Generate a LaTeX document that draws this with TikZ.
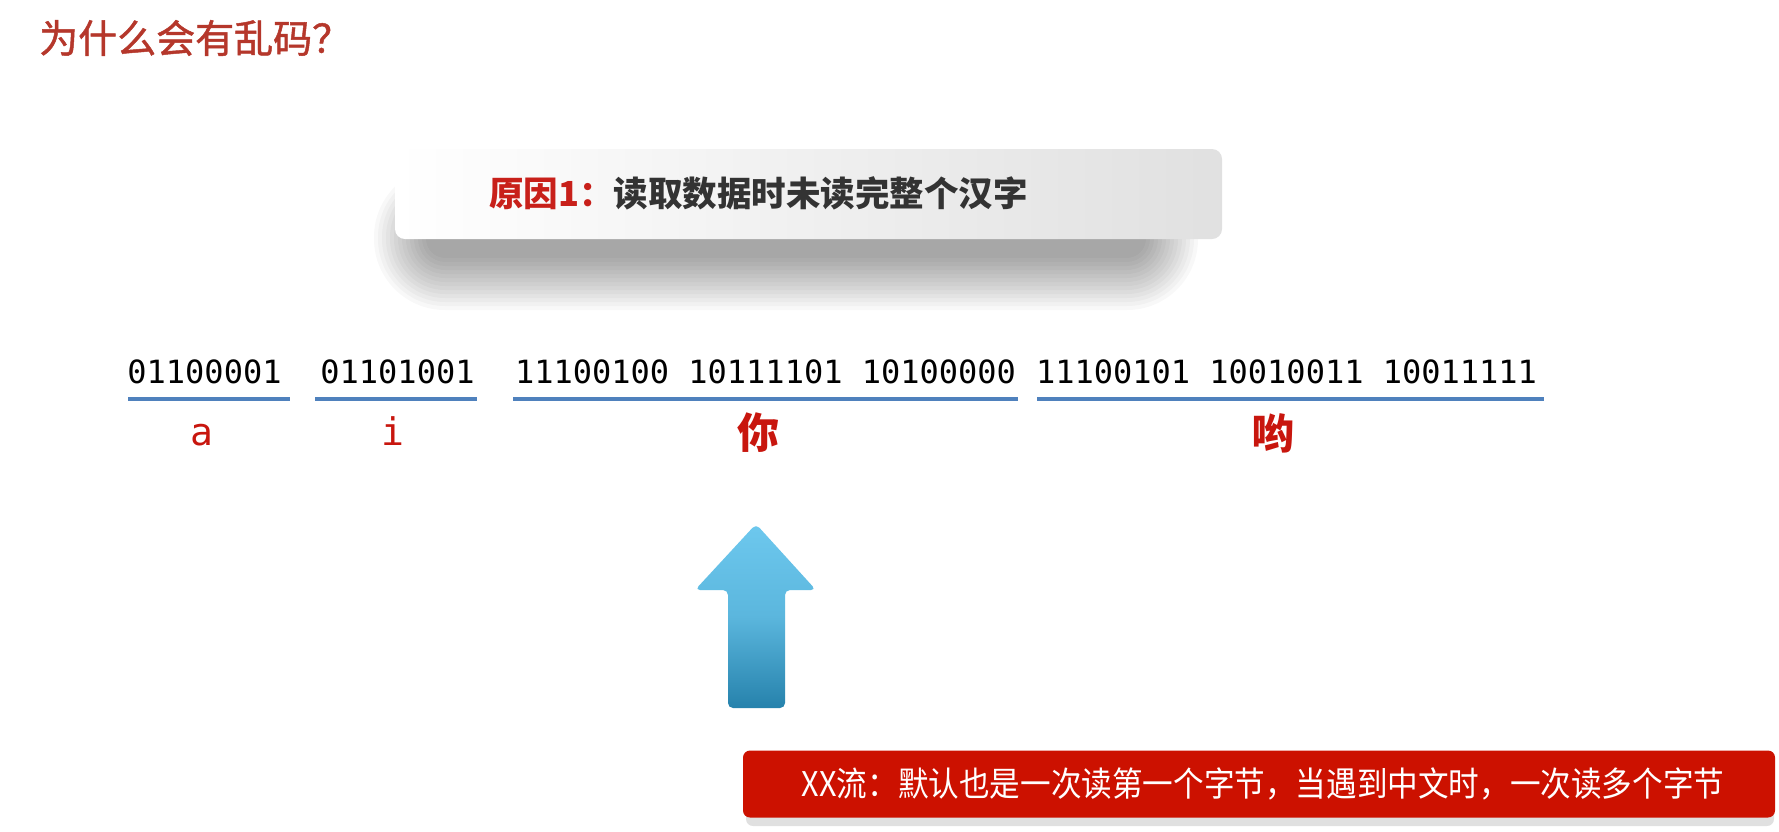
\documentclass[tikz,border=0pt]{standalone}
\usepackage{fontspec}
\newfontfamily\cjk{Noto Sans CJK SC}
\newfontfamily\cjkmed[FakeBold=1.2]{Noto Sans CJK SC}
\newfontfamily\cjknarrow[FakeStretch=0.9]{Noto Sans CJK SC}
\newfontfamily\monof{DejaVu Sans Mono}
\definecolor{titlered}{HTML}{B5372B}
\definecolor{reasonred}{HTML}{C8201A}
\definecolor{darktext}{HTML}{333333}
\definecolor{lineblue}{HTML}{4F81BD}
\definecolor{charred}{HTML}{C8160E}
\definecolor{notered}{HTML}{CC1100}
\definecolor{arrowtop}{HTML}{6DC8EE}
\definecolor{arrowbot}{HTML}{2682AC}
\tikzset{
  bits/.style={font=\monof\fontsize{32}{36}\selectfont, inner sep=0pt, anchor=center},
  latinlab/.style={font=\monof\fontsize{38}{44}\selectfont, text=charred, inner sep=0pt},
  hanlab/.style={font=\cjk\bfseries\fontsize{42}{48}\selectfont, text=charred, inner sep=0pt},
  uline/.style={draw=lineblue, line width=4pt},
  softshade/.style={fill=black, fill opacity=0.028, draw=none},
}
\begin{document}
\begin{tikzpicture}[x=1pt,y=-1pt]
\useasboundingbox (0,0) rectangle (1779,831);
\fill[white] (0,0) rectangle (1779,831);

% title
\node[font=\cjkmed\fontsize{39}{44}\selectfont, text=titlered, anchor=west, inner sep=0pt] (title) at (39,38) {为什么会有乱码？};

% soft shadow of reason box
\foreach \i in {1,...,14}{
  \pgfmathsetmacro{\hw}{356+4*\i}
  \pgfmathsetmacro{\hh}{16+4*\i}
  \pgfmathsetmacro{\rc}{\hh-1}
  \path[softshade, rounded corners=\rc pt] (786-\hw,238-\hh) rectangle (786+\hw,238+\hh);
}

% reason box
\node[minimum width=827pt, minimum height=90pt, rounded corners=10pt,
      left color=white, right color=black!12, draw=none]
      (reasonbox) at (808.5,194) {};
\node[anchor=west, inner sep=0pt, font=\cjk\bfseries\fontsize{34.5}{40}\selectfont] (reasontext) at (489,193)
  {\textcolor{reasonred}{原因1：}\textcolor{darktext}{读取数据时未读完整个汉字}};

% bits
\node[bits] (b1) at (204.5,372) {01100001};
\node[bits] (b2) at (397.5,372) {01101001};
\node[bits] (b3) at (765.5,372) {11100100 10111101 10100000};
\node[bits] (b4) at (1286.5,372) {11100101 10010011 10011111};

% underlines
\coordinate (u1a) at (128,399); \coordinate (u1b) at (290,399);
\coordinate (u2a) at (315,399); \coordinate (u2b) at (477,399);
\coordinate (u3a) at (513,399); \coordinate (u3b) at (1018,399);
\coordinate (u4a) at (1037,399); \coordinate (u4b) at (1544,399);
\draw[uline] (u1a) -- (u1b);
\draw[uline] (u2a) -- (u2b);
\draw[uline] (u3a) -- (u3b);
\draw[uline] (u4a) -- (u4b);

% labels
\node[latinlab, anchor=base] (la) at (202,445) {a};
\node[latinlab, anchor=base] (li) at (393,445) {i};
\node[hanlab] (lni) at (758,433) {你};
\node[hanlab] (lyo) at (1273,433) {哟};

% arrow
\path[rounded corners=5pt, top color=arrowtop, bottom color=arrowbot, middle color=arrowtop!75!arrowbot]
  (728,708) -- (728,590) -- (695,590) -- (756,524) -- (816,590) -- (785,590) -- (785,708) -- cycle;

% note box shadow + box
\path[fill=black, fill opacity=0.12, rounded corners=7pt] (746,758) rectangle (1774,826);
\node[minimum width=1032pt, minimum height=67pt, rounded corners=7pt, fill=notered]
      (notebox) at (1259,784) {};
\node[inner sep=0pt, text=white, font=\cjknarrow\fontsize{34}{40}\selectfont] (notetext) at (1263,784)
  {XX流：默认也是一次读第一个字节，当遇到中文时，一次读多个字节};
\end{tikzpicture}
\end{document}
